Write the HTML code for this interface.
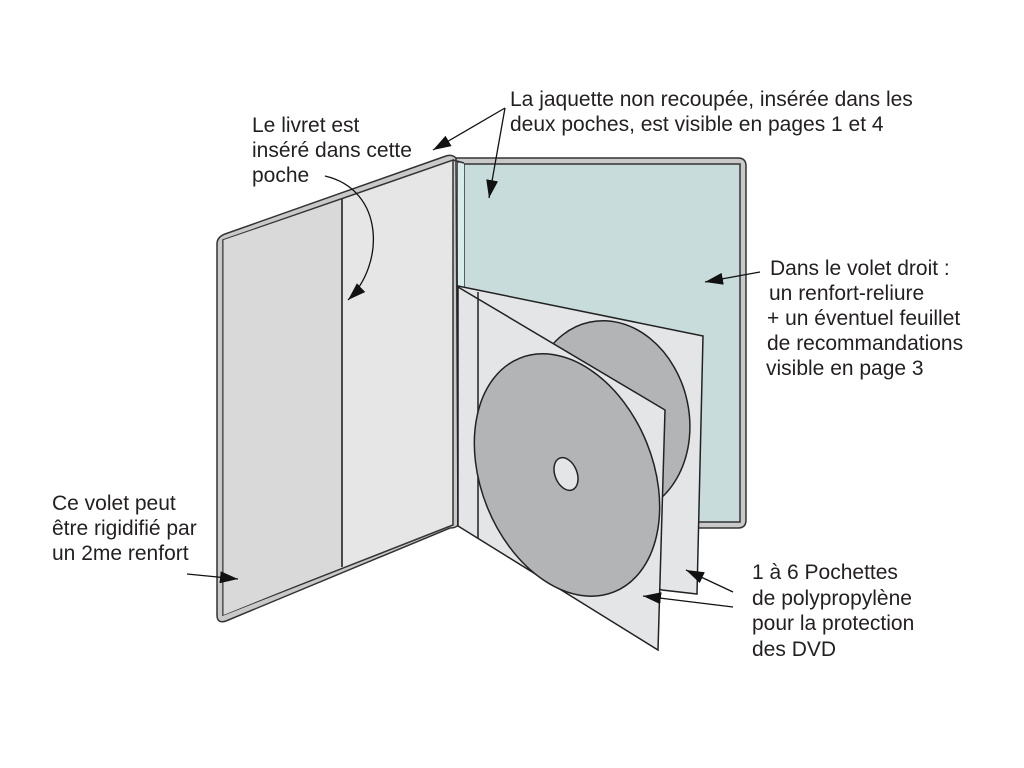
<!DOCTYPE html>
<html><head><meta charset="utf-8"><style>
html,body{margin:0;padding:0;background:#fff;}
svg{display:block;}
text{font-family:"Liberation Sans",Arial,sans-serif;font-size:21px;fill:#231f20;}
</style></head><body>
<svg width="1024" height="768" viewBox="0 0 1024 768" xmlns="http://www.w3.org/2000/svg">
<defs>
<marker id="ahb" markerWidth="18" markerHeight="12" refX="18" refY="6" orient="auto" markerUnits="userSpaceOnUse" viewBox="0 0 18 12">
<path d="M0,0 L18,6 L0,12 Z" fill="#111"/>
</marker>
</defs>

<!-- right cover frame -->
<path d="M452,158 L738,158 Q746,158 746,166 L746,520 Q746,528 738,528 L465,528 Z" fill="#c9c9c9" stroke="#333" stroke-width="1.5"/>
<rect x="464" y="164" width="276" height="358" fill="#c8dcdb" stroke="#333" stroke-width="1.5"/>
<line x1="458" y1="162" x2="458" y2="290" stroke="#333" stroke-width="1.5"/>
<rect x="458" y="163" width="6" height="125" fill="#d8ecec"/>

<!-- left cover frame -->
<path d="M225,234 L446,156 Q452,154 456,158 L458,525 Q456,528 450,528 L226,621 Q217,624 217,615 L217,244 Q217,237 225,234 Z" fill="#c9c9c9" stroke="#333" stroke-width="1.5"/>
<path d="M223,240 L453,160 L453,525 L223,615 Z" fill="#e6e6e6" stroke="#333" stroke-width="1.5"/>
<path d="M223.5,240 L342,199.5 L342,567 L223.5,615 Z" fill="#d9d9d9"/>
<line x1="342" y1="199" x2="342" y2="567" stroke="#222" stroke-width="1.6"/>
<line x1="453" y1="160" x2="464" y2="163" stroke="#333" stroke-width="1.5"/>

<!-- back sleeve -->
<path d="M458,286 L703,336 L697,594 L662,590 L458,526 Z" fill="#e4e5e7" stroke="#222" stroke-width="1.5"/>
<clipPath id="bc"><path d="M458,286 L703,336 L697,592 L458,592 Z"/></clipPath>
<ellipse cx="610" cy="418" rx="79" ry="98" transform="rotate(-12 610 418)" fill="#b3b4b6" stroke="#222" stroke-width="1.5" clip-path="url(#bc)"/>
<!-- front sleeve -->
<path d="M458,287 L665,410 L658,650 L458,526 Z" fill="#e4e5e7" stroke="#222" stroke-width="1.5"/>
<line x1="478" y1="292" x2="478" y2="538" stroke="#222" stroke-width="1.5"/>
<!-- front disc -->
<ellipse cx="567" cy="475" rx="86" ry="126" transform="rotate(-22 567 475)" fill="#b3b4b6" stroke="#222" stroke-width="1.5"/>
<ellipse cx="566" cy="474" rx="11" ry="17" transform="rotate(-22 566 474)" fill="#e4e5e7" stroke="#222" stroke-width="1.5"/>

<!-- arrows -->
<g stroke="#111" stroke-width="1.3" fill="none">
<line x1="505" y1="108" x2="433" y2="150" marker-end="url(#ahb)"/>
<line x1="505" y1="108" x2="489" y2="198" marker-end="url(#ahb)"/>
<path d="M325,176 C385,190 385,265 348,300" marker-end="url(#ahb)"/>
<line x1="760" y1="272" x2="705" y2="282" marker-end="url(#ahb)"/>
<line x1="187" y1="574" x2="238" y2="579" marker-end="url(#ahb)"/>
<line x1="733" y1="592" x2="686" y2="570" marker-end="url(#ahb)"/>
<line x1="733" y1="607" x2="643" y2="596" marker-end="url(#ahb)"/>
</g>

<!-- labels -->
<text x="510" y="106">La jaquette non recoupée, insérée dans les</text>
<text x="510" y="131">deux poches, est visible en pages 1 et 4</text>

<text x="252" y="132">Le livret est</text>
<text x="252" y="157">inséré dans cette</text>
<text x="252" y="182">poche</text>

<text x="770" y="275">Dans le volet droit :</text>
<text x="769" y="300">un renfort-reliure</text>
<text x="767" y="325">+ un éventuel feuillet</text>
<text x="767" y="350">de recommandations</text>
<text x="766" y="375">visible en page 3</text>

<text x="52" y="510">Ce volet peut</text>
<text x="52" y="535">être rigidifié par</text>
<text x="52" y="560">un 2me renfort</text>

<text x="752" y="579">1 à 6 Pochettes</text>
<text x="752" y="605">de polypropylène</text>
<text x="752" y="630">pour la protection</text>
<text x="752" y="656">des DVD</text>
</svg>
</body></html>
